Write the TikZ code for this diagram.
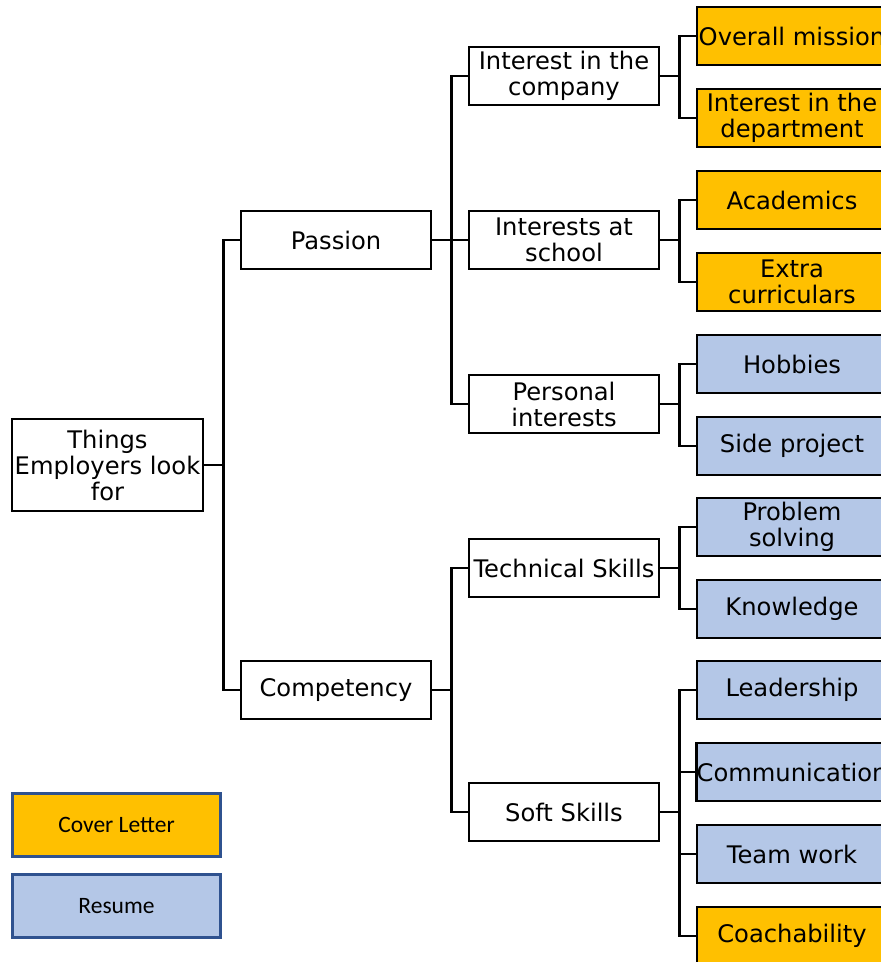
\documentclass[tikz,border=0pt]{standalone}
\usepackage{fontspec}
\setmainfont{DejaVu Sans}
\newfontfamily\legendfont{Carlito}
\definecolor{orng}{HTML}{FFC000}
\definecolor{lblue}{HTML}{B4C7E7}
\definecolor{lgborder}{HTML}{2F528F}
\tikzset{
  box/.style={draw=black, line width=2.6pt, fill=white, minimum width=190pt, minimum height=58pt,
    inner sep=0pt, align=center, font=\fontsize{24.2}{26}\selectfont},
  cl/.style={box, fill=orng},
  rs/.style={box, fill=lblue},
  legbox/.style={draw=lgborder, line width=2.4pt, minimum width=208pt, minimum height=63pt,
    inner sep=0pt, align=center, font=\legendfont\fontsize{23.5}{26}\selectfont},
  conn/.style={draw=black, line width=2.6pt}
}
\begin{document}
\begin{tikzpicture}[x=1pt,y=-1pt]
\useasboundingbox (0,0) rectangle (881,962);
\clip (0,0) rectangle (881,962);
\fill[white] (0,0) rectangle (881,962);
% root
\node[box, minimum width=191pt, minimum height=92pt] (root) at (107.5,465) {Things\\Employers look\\for};
% level 1
\node[box] (passion) at (336,240) {Passion};
\node[box] (comp) at (336,690) {Competency};
% level 2
\node[box] (company) at (564,76) {Interest in the\\company};
\node[box] (school) at (564,240) {Interests at\\school};
\node[box] (personal) at (564,404) {Personal\\interests};
\node[box] (tech) at (564,568) {Technical Skills};
\node[box] (soft) at (564,812) {Soft Skills};
% level 3
\node[cl] (mission) at (792,36) {Overall mission};
\node[cl] (dept) at (792,118) {Interest in the\\department};
\node[cl] (acad) at (792,200) {Academics};
\node[cl] (extra) at (792,282) {Extra\\curriculars};
\node[rs] (hobbies) at (792,364) {Hobbies};
\node[rs] (side) at (792,446) {Side project};
\node[rs] (problem) at (792,527) {Problem\\solving};
\node[rs] (know) at (792,609) {Knowledge};
\node[rs] (lead) at (792,690) {Leadership};
\node[rs] (commu) at (792,772) {Communication};
\node[rs] (team) at (792,854) {Team work};
\node[cl] (coach) at (792,936) {Coachability};
% connectors
\foreach \c in {passion,comp} \draw[conn] (root.east) -- ++(19,0) |- (\c.west);
\foreach \c in {company,school,personal} \draw[conn] (passion.east) -- ++(19,0) |- (\c.west);
\foreach \c in {tech,soft} \draw[conn] (comp.east) -- ++(19,0) |- (\c.west);
\foreach \c in {mission,dept} \draw[conn] (company.east) -- ++(19,0) |- (\c.west);
\foreach \c in {acad,extra} \draw[conn] (school.east) -- ++(19,0) |- (\c.west);
\foreach \c in {hobbies,side} \draw[conn] (personal.east) -- ++(19,0) |- (\c.west);
\foreach \c in {problem,know} \draw[conn] (tech.east) -- ++(19,0) |- (\c.west);
\foreach \c in {lead,commu,team,coach} \draw[conn] (soft.east) -- ++(19,0) |- (\c.west);
% legend
\node[legbox, fill=orng] (legcl) at (116.5,825) {Cover Letter};
\node[legbox, fill=lblue] (legrs) at (116.5,906) {Resume};
\end{tikzpicture}
\end{document}
